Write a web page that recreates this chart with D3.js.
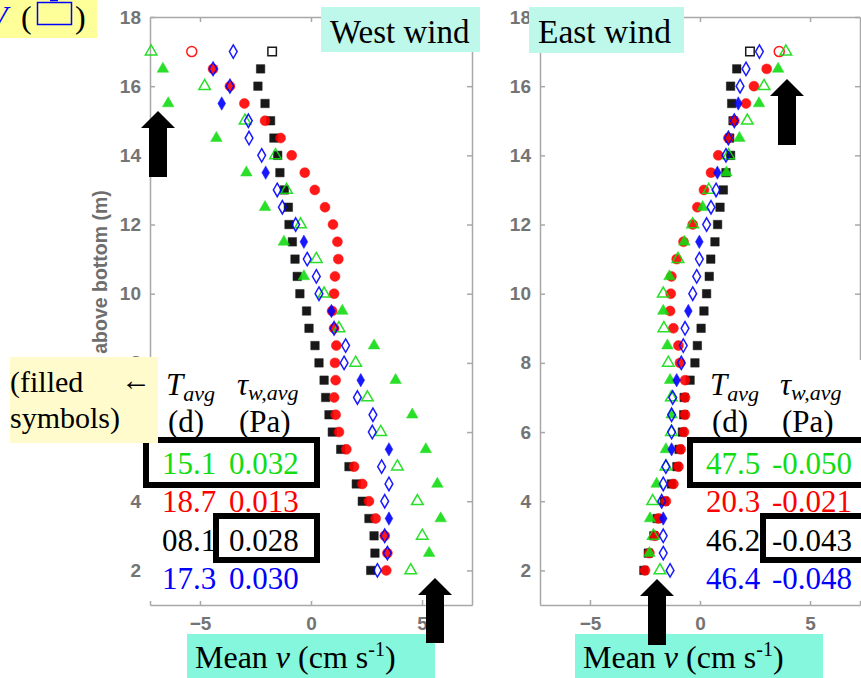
<!DOCTYPE html>
<html>
<head>
<meta charset="utf-8">
<title>Mean v profiles</title>
<script src="https://cdn.jsdelivr.net/npm/d3@7"></script>
<style>
  body { margin: 0; background: #fff; }
  svg { display: block; }
  .axis text { font-family: "Liberation Sans", Arial, sans-serif; font-weight: bold; font-size: 19px; fill: #747474; }
  .axis path, .axis line { stroke: #a8a8a8; stroke-width: 1.5; }
  .serif { font-family: "Liberation Serif", "Times New Roman", serif; }
</style>
</head>
<body>
<script>
// heights above bottom (m), top to bottom
var heights = [17, 16.5, 16, 15.5, 15, 14.5, 14, 13.5, 13, 12.5, 12, 11.5, 11, 10.5, 10, 9.5, 9, 8.5, 8, 7.5, 7, 6.5, 6, 5.5, 5, 4.5, 4, 3.5, 3, 2.5, 2];

// West wind, mean v (cm/s)
var westGreen = [-7.2, -6.67, -4.79, -6.43, -2.97, -4.26, -1.6, -2.91, -1.1, -2.07, -0.47, -1.22, 0.24, -0.32, 0.59, 1.41, 1.26, 2.84, 2.01, 3.81, 2.54, 4.56, 3.14, 5.17, 3.89, 5.69, 4.79, 5.84, 5.01, 5.32, 4.49];
var westRed = [-5.37, -4.41, -3.65, -3.0, -2.07, -1.37, -0.87, -0.28, 0.17, 0.63, 0.99, 1.19, 1.23, 1.08, 1.04, 0.95, 1.04, 1.14, 1.08, 1.11, 1.04, 1.11, 1.26, 1.59, 1.94, 2.31, 2.61, 2.91, 3.32, 3.44, 3.39];
var westBlack = [-1.75, -2.27, -2.39, -2.07, -1.82, -1.67, -1.5, -1.4, -1.2, -1.02, -0.99, -0.84, -0.72, -0.62, -0.5, -0.2, -0.09, 0.18, 0.36, 0.59, 0.66, 0.81, 0.96, 1.34, 1.71, 2.04, 2.31, 2.61, 2.84, 2.88, 2.69];
var westBlue = [-3.5, -4.41, -3.65, -4.02, -2.82, -2.79, -2.22, -2.04, -1.52, -1.29, -0.69, -0.32, -0.17, 0.24, 0.36, 0.92, 1.04, 1.56, 1.49, 2.24, 2.09, 2.79, 2.76, 3.51, 3.18, 3.51, 3.32, 3.51, 3.32, 3.44, 2.99];

// East wind, mean v (cm/s)
var eastGreen = [3.9, 3.55, 2.91, 2.68, 2.15, 1.79, 1.3, 1.2, 0.4, 0.12, -0.33, -0.71, -1.0, -1.39, -1.67, -1.67, -1.64, -1.48, -1.44, -1.36, -1.3, -1.29, -1.3, -1.55, -1.55, -1.97, -2.15, -2.27, -2.12, -2.3, -1.82];
var eastRed = [3.6, 3.03, 2.45, 2.09, 1.56, 1.29, 0.83, 0.5, 0.18, -0.12, -0.33, -0.75, -1.06, -1.3, -1.33, -1.36, -1.21, -0.98, -0.91, -0.68, -0.68, -0.68, -0.73, -0.88, -0.98, -1.21, -1.55, -1.89, -2.05, -2.3, -2.5];
var eastBlack = [2.27, 1.67, 1.39, 1.44, 1.5, 1.35, 1.39, 1.18, 1.06, 0.91, 0.8, 0.68, 0.49, 0.42, 0.3, 0.18, 0.05, -0.12, -0.23, -0.45, -0.72, -0.74, -0.8, -0.95, -1.05, -1.3, -1.62, -1.95, -2.1, -2.35, -2.55];
var eastBlue = [2.7, 2.09, 1.82, 1.74, 1.56, 1.29, 1.18, 0.79, 0.73, 0.5, 0.3, -0.03, -0.03, -0.15, -0.33, -0.53, -0.68, -0.76, -0.85, -1.06, -1.24, -1.29, -1.29, -1.29, -1.55, -1.67, -1.74, -1.67, -1.67, -1.67, -1.36];

// 1 = filled symbol, 0 = open symbol
var greenFilled = [0,1,0,1,0,1,0,1,0,1,0,1,0,1,0,1,0,1,0,1,0,1,0,1,0,1,0,1,0,1,0];
var redFilled   = [0,1,1,1,1,1,1,1,1,1,1,1,1,1,1,1,1,1,1,1,1,1,1,1,1,1,1,1,1,1,1];
var blackFilled = [0,1,1,1,1,1,1,1,1,1,1,1,1,1,1,1,1,1,1,1,1,1,1,1,1,1,1,1,1,1,1];
var blueFilled  = [0,0,0,1,0,0,0,1,0,0,0,1,0,0,0,1,0,0,0,1,0,0,0,1,0,0,0,1,0,0,0];

// T_avg (d) and tau_w,avg (Pa) for filled symbols, rows green, red, black, blue
var westTavg = ["15.1", "18.7", "08.1", "17.3"];
var westTau = ["0.032", "0.013", "0.028", "0.030"];
var eastTavg = ["47.5", "20.3", "46.2", "46.4"];
var eastTau = ["-0.050", "-0.021", "-0.043", "-0.048"];

var xTicks = [-5, 0, 5];
var yTicks = [2, 4, 6, 8, 10, 12, 14, 16, 18];

var colGreen = "#12dc12", colRed = "#ff0000", colBlack = "#000000", colBlue = "#0000ff";
var rowColors = [colGreen, colRed, colBlack, colBlue];

var svg = d3.select("body").append("svg")
    .attr("width", 861)
    .attr("height", 678);

var y = d3.scaleLinear().domain([1, 18]).range([605, 17]);

var panels = [
  {title: "West wind", x: d3.scaleLinear().domain([-7.25, 7.25]).range([150, 472]),
   series: [[westBlack, blackFilled, colBlack, d3.symbolSquare, 72],
            [westRed, redFilled, colRed, d3.symbolCircle, 78],
            [westGreen, greenFilled, colGreen, d3.symbolTriangle, 58],
            [westBlue, blueFilled, colBlue, d3.symbolDiamond, 52]]},
  {title: "East wind", x: d3.scaleLinear().domain([-7.27, 7.27]).range([540, 860]),
   series: [[eastBlack, blackFilled, colBlack, d3.symbolSquare, 72],
            [eastRed, redFilled, colRed, d3.symbolCircle, 78],
            [eastGreen, greenFilled, colGreen, d3.symbolTriangle, 58],
            [eastBlue, blueFilled, colBlue, d3.symbolDiamond, 52]]}
];

panels.forEach(function(p) {
  var x = p.x;
  var x0 = x.range()[0], x1 = x.range()[1];

  // axes (ticks pointing inward)
  svg.append("g").attr("class", "axis")
      .attr("transform", "translate(0," + y(1) + ")")
      .call(d3.axisBottom(x).tickValues(xTicks).tickSizeInner(-5).tickSizeOuter(0).tickPadding(12));
  svg.append("g").attr("class", "axis")
      .attr("transform", "translate(0," + y(18) + ")")
      .call(d3.axisTop(x).tickValues(xTicks).tickSizeInner(-5).tickSizeOuter(0).tickFormat(""));
  svg.append("g").attr("class", "axis")
      .attr("transform", "translate(" + x0 + ",0)")
      .call(d3.axisLeft(y).tickValues(yTicks).tickSizeInner(-5).tickSizeOuter(0).tickPadding(9));
  svg.append("g").attr("class", "axis")
      .attr("transform", "translate(" + x1 + ",0)")
      .call(d3.axisRight(y).tickValues(yTicks).tickSizeInner(-5).tickSizeOuter(0).tickFormat(""));

  // profiles
  p.series.forEach(function(s) {
    var vals = s[0], filled = s[1], col = s[2], sym = d3.symbol().type(s[3]).size(s[4]);
    svg.append("g").selectAll("path")
      .data(vals.map(function(v, i) { return {v: v, h: heights[i], f: filled[i]}; }))
      .enter().append("path")
        .attr("d", sym)
        .attr("transform", function(d) { return "translate(" + x(d.v) + "," + y(d.h) + ")"; })
        .attr("fill", function(d) { return d.f ? col : "none"; })
        .attr("stroke", col)
        .attr("stroke-width", function(d) { return d.f ? 0.5 : 1.5; })
        .attr("opacity", 0.9);
  });
});

// y label (left panel), partly hidden by the note box as in the original
svg.append("text")
    .attr("transform", "translate(107," + ((y(1) + y(18)) / 2 - 6) + ") rotate(-90)")
    .attr("text-anchor", "middle")
    .style("font-family", "'Liberation Sans', Arial, sans-serif")
    .style("font-weight", "bold")
    .style("font-size", "19.5px")
    .style("fill", "#6e6e6e")
    .text("Height above bottom (m)");

// white panels behind the tables
svg.append("rect").attr("x", 147).attr("y", 357).attr("width", 165).attr("height", 244).attr("fill", "#fff");
svg.append("rect").attr("x", 700).attr("y", 360).attr("width", 161).attr("height", 241).attr("fill", "#fff");

function tableBlock(col1x, col2x, tav, tau, boxes) {
  var g = svg.append("g").attr("class", "serif").style("font-size", "31px");
  var hT = g.append("text").attr("x", col1x + 4).attr("y", 395).style("font-style", "italic");
  hT.append("tspan").text("T");
  hT.append("tspan").attr("dy", 6).style("font-size", "22px").text("avg");
  var hS = g.append("text").attr("x", col2x + 8).attr("y", 395).style("font-style", "italic");
  hS.append("tspan").text("\u03C4");
  hS.append("tspan").attr("dy", 5).style("font-size", "22px").text("w,avg");
  g.append("text").attr("x", col1x + 6).attr("y", 432).text("(d)");
  g.append("text").attr("x", col2x + 10).attr("y", 432).text("(Pa)");
  tav.forEach(function(t, i) {
    g.append("text").attr("x", col1x).attr("y", 474 + i * 38.3).attr("fill", rowColors[i]).text(t);
    g.append("text").attr("x", col2x).attr("y", 474 + i * 38.3).attr("fill", rowColors[i]).text(tau[i]);
  });
  boxes.forEach(function(b) {
    svg.append("rect").attr("x", b[0]).attr("y", b[1]).attr("width", b[2]).attr("height", b[3])
      .attr("fill", "none").attr("stroke", "#000").attr("stroke-width", 6);
  });
}
tableBlock(162, 229, westTavg, westTau, [[146, 440, 171, 45], [216, 516, 101, 44]]);
tableBlock(706, 772, eastTavg, eastTau, [[690, 440, 180, 45], [763, 516, 110, 44]]);

// annotation boxes
function labelBox(x, yy, w, h, fill) {
  svg.append("rect").attr("x", x).attr("y", yy).attr("width", w).attr("height", h).attr("fill", fill);
}
labelBox(321, 7, 159, 45, "#bdf8ea");
svg.append("text").attr("class", "serif").attr("x", 330).attr("y", 43).style("font-size", "33px").text("West wind");
labelBox(529, 7, 155, 46, "#bdf8ea");
svg.append("text").attr("class", "serif").attr("x", 538).attr("y", 43).style("font-size", "33.5px").text("East wind");

function meanLabel(x) {
  labelBox(x, 634, 248, 44, "#84f7dc");
  var t = svg.append("text").attr("class", "serif").attr("x", x + 8).attr("y", 668).style("font-size", "32px");
  t.append("tspan").text("Mean ");
  t.append("tspan").style("font-style", "italic").text("v");
  t.append("tspan").text(" (cm s");
  t.append("tspan").attr("dy", -12).style("font-size", "20px").text("-1");
  t.append("tspan").attr("dy", 12).text(")");
}
meanLabel(187);
meanLabel(575);

// "(filled symbols)" note
labelBox(10, 357, 148, 86, "#fffbcc");
svg.append("text").attr("class", "serif").attr("x", 10).attr("y", 392).style("font-size", "30px").text("(filled");
svg.append("text").attr("class", "serif").attr("x", 121).attr("y", 390).style("font-size", "30px").text("\u2190");
svg.append("text").attr("class", "serif").attr("x", 10).attr("y", 428).style("font-size", "30px").text("symbols)");

// top-left legend fragment
labelBox(0, 0, 97, 38, "#ffff99");
svg.append("text").attr("class", "serif").attr("x", -12).attr("y", 28).style("font-size", "32px")
    .style("font-style", "italic").attr("fill", colBlue).text("V");
svg.append("text").attr("class", "serif").attr("x", 21).attr("y", 28).style("font-size", "32px").text("(");
svg.append("rect").attr("x", 37.5).attr("y", 2.5).attr("width", 34).attr("height", 22)
    .attr("fill", "none").attr("stroke", colBlue).attr("stroke-width", 1.5);
svg.append("line").attr("x1", 50).attr("x2", 58).attr("y1", 0.5).attr("y2", 0.5).attr("stroke", colBlue).attr("stroke-width", 1.5);
svg.append("text").attr("class", "serif").attr("x", 75).attr("y", 28).style("font-size", "32px").text(")");

// arrows: tip x, tip y, tail y
function arrow(tx, ty, by) {
  var hw = 17, sw = 9, hh = 17;
  svg.append("polygon")
    .attr("points", [[tx, ty], [tx + hw, ty + hh], [tx + sw, ty + hh], [tx + sw, by],
                     [tx - sw, by], [tx - sw, ty + hh], [tx - hw, ty + hh]].join(" "))
    .attr("fill", "#000");
}
arrow(158, 111, 177);
arrow(435, 578, 643);
arrow(787, 79, 145);
arrow(657, 579, 645);
</script>
</body>
</html>
